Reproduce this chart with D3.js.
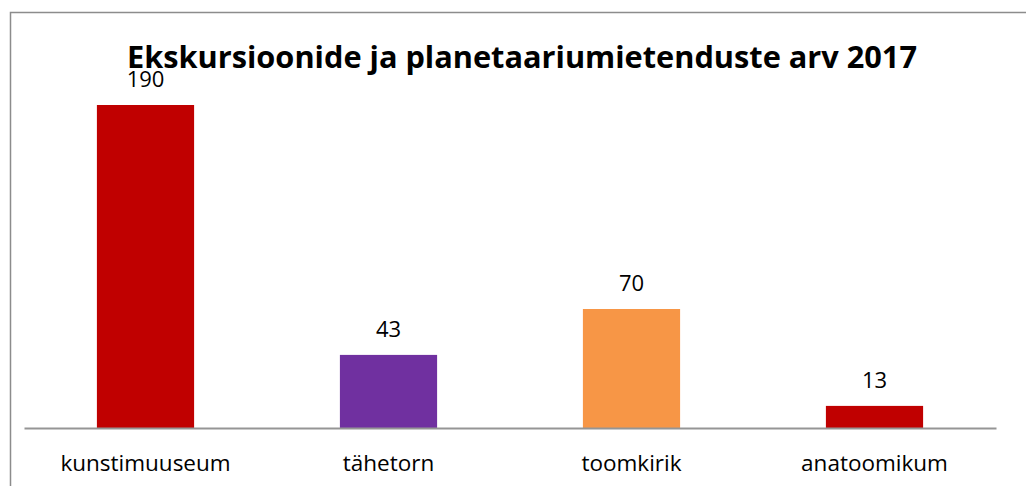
<!DOCTYPE html>
<html>
<head>
  <meta charset="utf-8">
  <title>Ekskursioonide ja planetaariumietenduste arv 2017</title>
  <script src="https://d3js.org/d3.v7.min.js"></script>
  <style>
    body { margin: 0; background: #fff; }
    svg text { font-family: "Open Sans", "Liberation Sans", sans-serif; fill: #000; }
  </style>
</head>
<body>
<svg id="chart" width="1026" height="486"></svg>

<script>
var categories = ["kunstimuuseum", "tähetorn", "toomkirik", "anatoomikum"];
var values = [190, 43, 70, 13];
var barColors = ["#c00000", "#7030a0", "#f79646", "#c00000"];
var title = "Ekskursioonide ja planetaariumietenduste arv 2017";

var width = 1026, height = 486;
var baseY = 428;
var svg = d3.select("#chart");

// chart area frame (only top + left visible in the crop)
svg.append("rect")
    .attr("x", 10.5).attr("y", 12.5)
    .attr("width", 1100).attr("height", 600)
    .attr("fill", "none")
    .attr("stroke", "#8c8c8c")
    .attr("stroke-width", 1.5);

var x = d3.scaleBand()
    .domain(categories)
    .range([24, 996])
    .paddingInner(0.6)
    .paddingOuter(0.3);

var y = d3.scaleLinear()
    .domain([0, 200])
    .range([baseY, 88]);

svg.selectAll("rect.bar").data(values).enter().append("rect")
    .attr("class", "bar")
    .attr("x", function(d, i) { return x(categories[i]); })
    .attr("width", x.bandwidth())
    .attr("y", function(d) { return y(d); })
    .attr("height", function(d) { return baseY - y(d); })
    .attr("fill", function(d, i) { return barColors[i]; });

// x axis: just the line and labels
var axis = svg.append("g")
    .attr("transform", "translate(0," + baseY + ")")
    .call(d3.axisBottom(x).tickSize(0).tickPadding(0).tickSizeOuter(0));
axis.select(".domain").attr("stroke", "#959595").attr("stroke-width", 2);
axis.selectAll(".tick text")
    .attr("y", 43)
    .attr("dy", 0)
    .style("font-size", "22.5px")
    .style("font-family", "'Open Sans', 'Liberation Sans', sans-serif")
    .attr("fill", "#000");

svg.selectAll("text.val").data(values).enter().append("text")
    .attr("class", "val")
    .attr("x", function(d, i) { return x(categories[i]) + x.bandwidth() / 2; })
    .attr("y", function(d) { return y(d) - 18; })
    .attr("text-anchor", "middle")
    .style("font-size", "22px")
    .text(function(d) { return d; });

svg.append("text")
    .attr("x", 522)
    .attr("y", 68)
    .attr("text-anchor", "middle")
    .attr("textLength", 790)
    .attr("lengthAdjust", "spacingAndGlyphs")
    .style("font-size", "31px")
    .style("font-weight", "bold")
    .text(title);
</script>
</body>
</html>
